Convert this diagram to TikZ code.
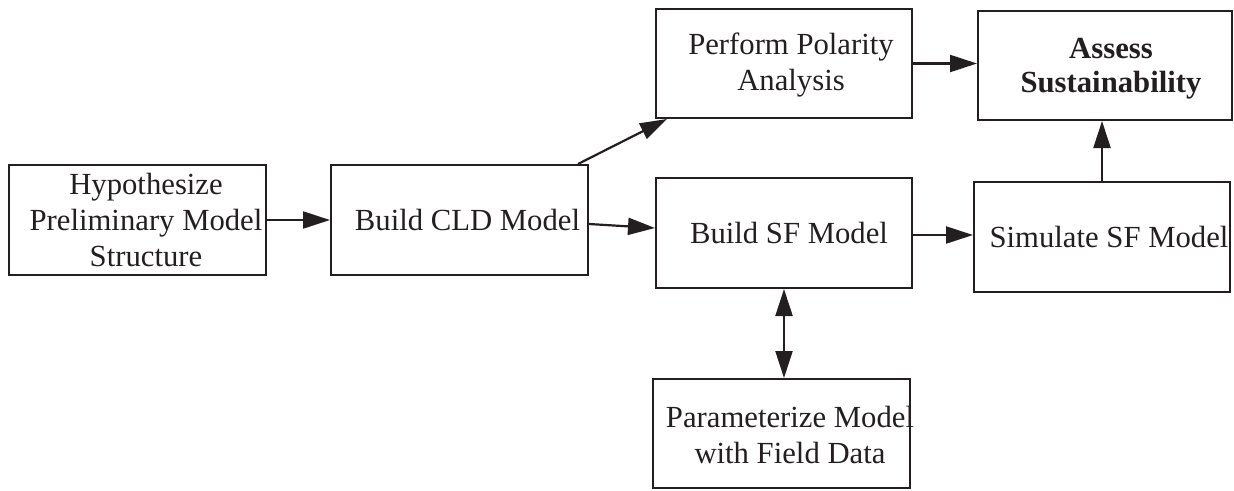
\documentclass[tikz,border=0pt]{standalone}
\usepackage{fontspec}
\setmainfont{Liberation Serif}
\usetikzlibrary{arrows.meta}
\definecolor{ink}{HTML}{231F20}
\begin{document}
\begin{tikzpicture}[x=1pt,y=-1pt,
  box/.style={draw=ink,line width=2pt,rectangle,inner sep=0pt,minimum width=#1,minimum height=110pt},
  box/.default=256pt,
  lbl/.style={text=ink,align=center,inner sep=0pt,font=\fontsize{30.7}{36}\selectfont},
  conn/.style={draw=ink,line width=2.2pt,-{Triangle[length=27pt,width=17pt]}},
  bconn/.style={draw=ink,line width=2.2pt,{Triangle[length=27pt,width=17pt]}-{Triangle[length=27pt,width=17pt]}}]
\useasboundingbox (0,0) rectangle (1234,490);
% boxes
\node[box=257pt] (hyp) at (137.5,220) {};
\node[box=257pt] (cld) at (459.5,220) {};
\node[box=256pt,minimum height=109pt] (pol) at (784,63.5) {};
\node[box=254pt,minimum height=109pt] (ass) at (1105,65.5) {};
\node[box=256pt] (bsf) at (784,233) {};
\node[box=256pt] (sim) at (1102,237) {};
\node[box=257pt,minimum height=109pt] (par) at (781.5,433.5) {};
% texts
\node[lbl] (thyp) at (146,220) {Hypothesize\\Preliminary Model\\Structure};
\node[lbl] (tcld) at (467.5,220) {Build CLD Model};
\node[lbl] (tpol) at (791,65) {Perform Polarity\\Analysis};
\node[lbl,font=\fontsize{30.7}{34}\selectfont\bfseries] (tass) at (1111,69) {Assess\\Sustainability};
\node[lbl] (tbsf) at (789,233) {Build SF Model};
\node[lbl] (tsim) at (1109,237) {Simulate SF Model};
\node[lbl] (tpar) at (790,435) {Parameterize Model\\with Field Data};
% connectors
\draw[conn] (hyp.east) -- (cld.west);
\draw[conn] ([xshift=-11pt]cld.north east) -- ([xshift=12pt]pol.south west);
\draw[conn] ([yshift=-4pt]cld.east) -- ([yshift=5pt]bsf.west);
\draw[conn] (pol.east) -- (pol.east -| ass.west);
\draw[conn] ([yshift=-2pt]bsf.east) -- ([yshift=2pt]sim.west);
\draw[conn] (sim.north) -- (sim.north |- ass.south);
\draw[bconn] (bsf.south) -- (bsf.south |- par.north);
\end{tikzpicture}
\end{document}
